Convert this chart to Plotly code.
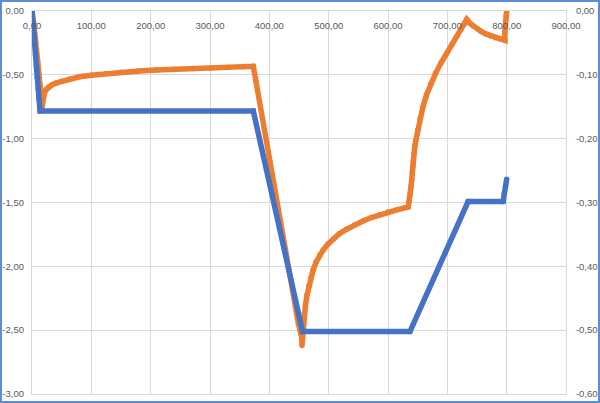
import plotly.graph_objects as go

# X axis ticks
x_tick_vals = [0, 100, 200, 300, 400, 500, 600, 700, 800, 900]
x_tick_text = ["0,00", "100,00", "200,00", "300,00", "400,00", "500,00", "600,00", "700,00", "800,00", "900,00"]

# Left axis ticks (blue series)
left_tick_vals = [0, -0.5, -1.0, -1.5, -2.0, -2.5, -3.0]
left_tick_text = ["0,00", "-0,50", "-1,00", "-1,50", "-2,00", "-2,50", "-3,00"]

# Right axis ticks (orange series)
right_tick_vals = [0, -0.1, -0.2, -0.3, -0.4, -0.5, -0.6]
right_tick_text = ["0,00", "-0,10", "-0,20", "-0,30", "-0,40", "-0,50", "-0,60"]

# Blue series (left axis)
blue_x = [0, 1.5, 3, 4.5, 6, 7.5, 9, 10.5, 12, 13.5, 373, 456, 637, 735, 794, 796, 798, 800]
blue_y = [0.0, -0.085, -0.17, -0.255, -0.345, -0.43, -0.52, -0.605, -0.69, -0.783,
          -0.783, -2.511, -2.511, -1.493, -1.493, -1.428, -1.376, -1.318]

# Orange series (right axis)
orange_x = [0, 3.5, 5.5, 7.5, 9.5, 11.5, 13.5, 15, 16.3, 17.3, 18.3, 19.5, 21, 24, 28, 33, 40, 50, 62,
            80, 100, 125, 150, 180, 210, 240, 270, 300, 330, 355, 373,
            449, 451.7, 454.6, 455,
            455.8, 456.5, 457.5, 459, 461, 463.5, 466.5, 470, 474, 479, 485, 491, 499, 508,
            518, 530, 544, 558, 572, 586, 600, 615, 634,
            636, 637.5, 638.8, 640, 640.8, 641.7, 642.7, 643.8, 645.2, 647, 650, 654, 659,
            665, 672, 680, 689, 699, 708, 716, 723, 728, 732.7,
            738, 744, 750, 757, 765, 773, 781, 789, 797,
            797, 797.5, 798, 799, 800]
orange_y = [0.0, -0.02, -0.04, -0.06, -0.08, -0.10, -0.12, -0.136, -0.146, -0.150,
            -0.142, -0.134, -0.128, -0.123, -0.119, -0.116, -0.113, -0.110, -0.107,
            -0.103, -0.1005, -0.098, -0.096, -0.094, -0.0925, -0.0912, -0.0902, -0.0893,
            -0.0884, -0.0875, -0.0865,
            -0.49, -0.50, -0.511, -0.524,
            -0.512, -0.50, -0.488, -0.474, -0.46, -0.445, -0.431, -0.418, -0.405, -0.393,
            -0.382, -0.374, -0.365, -0.357, -0.349, -0.342, -0.335, -0.329, -0.3235,
            -0.319, -0.315, -0.3115, -0.307,
            -0.298, -0.288, -0.275, -0.264, -0.253, -0.244, -0.234, -0.223, -0.212, -0.202,
            -0.187, -0.168, -0.150, -0.131, -0.114, -0.098, -0.082, -0.066, -0.052,
            -0.040, -0.029, -0.021, -0.013,
            -0.019, -0.024, -0.028, -0.032, -0.036, -0.039, -0.042, -0.044, -0.046,
            -0.033, -0.025, -0.016, -0.008, 0.0]

BLUE = "#4472C4"
ORANGE = "#ED7D31"
TXT = "#595959"
GRID = "#D9D9D9"
FONT = dict(family="Liberation Sans, Arial, sans-serif", size=9.5, color=TXT)

fig = go.Figure()
fig.add_trace(go.Scatter(
    x=orange_x, y=orange_y, mode="lines+markers", yaxis="y",
    line=dict(color=ORANGE, width=5.5), marker=dict(color=ORANGE, size=5.5),
    showlegend=False, hoverinfo="skip"))
fig.add_trace(go.Scatter(
    x=blue_x, y=blue_y, mode="lines+markers", yaxis="y2",
    line=dict(color=BLUE, width=5.5), marker=dict(color=BLUE, size=5.5),
    showlegend=False, hoverinfo="skip"))

L, R, T, B = 32, 34, 11, 9
W, H = 600, 403
pw, ph = W - L - R, H - T - B

fig.update_layout(
    width=W, height=H,
    margin=dict(l=L, r=R, t=T, b=B, pad=0, autoexpand=False),
    paper_bgcolor="white", plot_bgcolor="white",
    font=FONT,
    xaxis=dict(range=[0, 900], side="top", tickvals=x_tick_vals, ticktext=x_tick_text,
               ticklabelposition="inside", ticklabeloverflow="allow",
               ticks="inside", ticklen=3, tickcolor="rgba(0,0,0,0)",
               ticklabelstandoff=7, automargin=False,
               showgrid=True, gridcolor=GRID, gridwidth=1, zeroline=False,
               showline=True, mirror=True, linecolor=GRID, linewidth=1,
               tickfont=FONT),
    yaxis=dict(range=[-0.6, 0], side="right", tickvals=right_tick_vals, ticktext=right_tick_text,
               showgrid=True, gridcolor=GRID, gridwidth=1, zeroline=False, ticks="",
               ticklabelstandoff=7, automargin=False,
               showline=True, mirror=True, linecolor=GRID, linewidth=1, tickfont=FONT),
    yaxis2=dict(range=[-3, 0], side="left", overlaying="y", tickvals=left_tick_vals,
                ticktext=left_tick_text, showgrid=False, zeroline=False, ticks="",
                ticklabelstandoff=7, automargin=False, tickfont=FONT),
)

# chart area border
fig.add_shape(type="rect", xref="paper", yref="paper",
              x0=(1 - L) / pw, x1=(W - 1 - L) / pw,
              y0=(H - B - (H - 1)) / ph, y1=(H - B - 1) / ph,
              line=dict(color="#5F8BD8", width=2), fillcolor="rgba(0,0,0,0)")

fig.write_html("out.html", config={"displayModeBar": False},
               post_script="document.body.style.margin='0';document.body.style.overflow='hidden';")
